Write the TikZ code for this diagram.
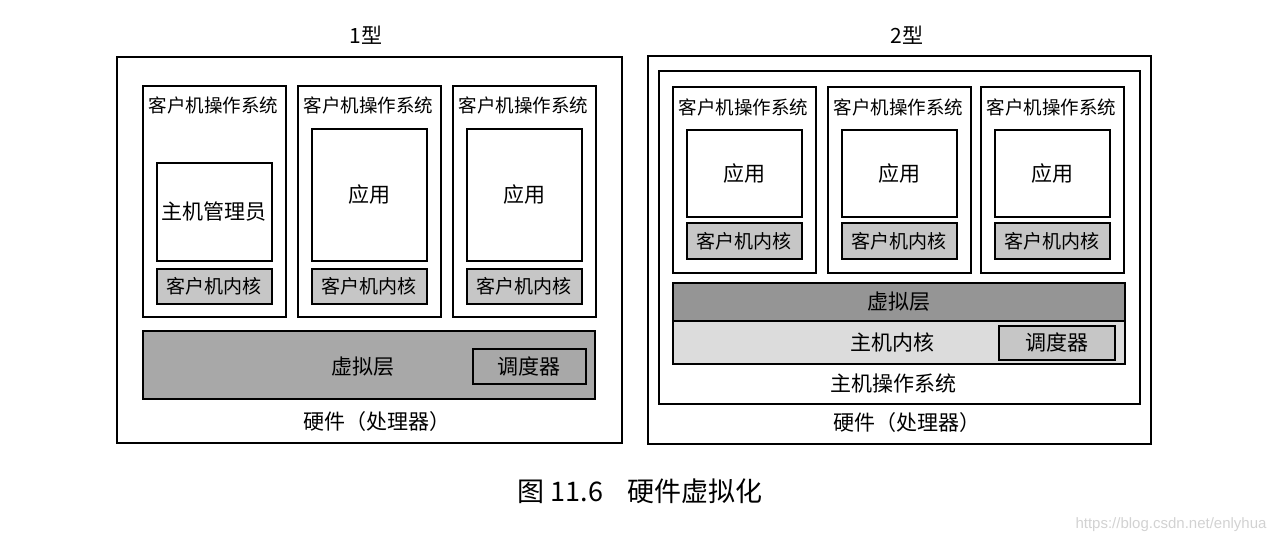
\documentclass[tikz,border=0pt]{standalone}
\usepackage{fontspec}
\setmainfont{Noto Sans CJK SC}
\newfontfamily\wmfont{Liberation Sans}
\definecolor{kernelgray}{HTML}{C6C6C6}
\definecolor{layergray}{HTML}{A8A8A8}
\definecolor{layerdark}{HTML}{959595}
\definecolor{hostgray}{HTML}{DCDCDC}
\tikzset{
  blk/.style={draw,line width=1.6pt,inner sep=0pt,anchor=north west},
  kernelbox/.style={blk,fill=kernelgray,minimum width=115,font=\fontsize{19}{19}\selectfont},
  txt/.style={inner sep=0pt,font=\fontsize{21}{21}\selectfont},
  ostxt/.style={inner sep=0pt,font=\fontsize{18.5}{18.5}\selectfont}
}

\begin{document}
\begin{tikzpicture}[x=1pt,y=-1pt]
\useasboundingbox (0,0) rectangle (1280,544);

% type 1
\node[txt] (t1) at (366,35) {1型};
\node[blk,minimum width=505,minimum height=386] (hw1) at (116,56) {};
\foreach \i/\gx/\top/\app in {1/142/162/主机管理员,2/297/128/应用,3/452/128/应用}{
  \node[blk,minimum width=143,minimum height=231] (os\i) at (\gx,85) {};
  \node[ostxt] (ost\i) at (\gx+71.5,105) {客户机操作系统};
  \node[blk,txt,minimum width=115,minimum height=260-\top] (app\i) at (\gx+14,\top) {\app};
  \node[kernelbox,minimum height=35] (gk\i) at (\gx+14,268) {客户机内核};
}
\node[blk,fill=layergray,minimum width=452,minimum height=68] (vl1) at (142,330) {};
\node[txt] (vlt1) at (363,367) {虚拟层};
\node[blk,txt,fill=layergray,minimum width=113,minimum height=35] (sch1) at (472,348) {调度器};
\node[txt] (hwt1) at (377,422) {硬件（处理器）};

% type 2
\node[txt] (t2) at (907,35) {2型};
\node[blk,minimum width=503,minimum height=388] (hw2) at (647,55) {};
\node[blk,minimum width=481,minimum height=333] (hos) at (658,70) {};
\foreach \i/\gx in {1/672,2/827,3/980}{
  \node[blk,minimum width=143,minimum height=186] (gos\i) at (\gx,86) {};
  \node[ostxt] (gost\i) at (\gx+71.5,107) {客户机操作系统};
  \node[blk,txt,minimum width=115,minimum height=87] (gapp\i) at (\gx+14,129) {应用};
  \node[kernelbox,minimum height=36] (hk\i) at (\gx+14,222) {客户机内核};
}
\node[blk,txt,fill=layerdark,minimum width=452,minimum height=38] (vl2) at (672,282) {虚拟层};
\node[blk,fill=hostgray,minimum width=452,minimum height=43] (hk) at (672,320) {};
\node[txt] (hkt) at (892,342) {主机内核};
\node[blk,txt,fill=kernelgray,minimum width=116,minimum height=34] (sch2) at (998,325) {调度器};
\node[txt] (host) at (893,383) {主机操作系统};
\node[txt] (hwt2) at (907,423) {硬件（处理器）};

% caption
\node[inner sep=0pt,font=\fontsize{27}{27}\selectfont] (cap) at (640,491) {图 11.6\hspace{24pt}硬件虚拟化};
\node[inner sep=0pt,text=gray!35,font=\wmfont\fontsize{15}{15}\selectfont] (wm) at (1171,525) {https://blog.csdn.net/enlyhua};
\end{tikzpicture}
\end{document}
